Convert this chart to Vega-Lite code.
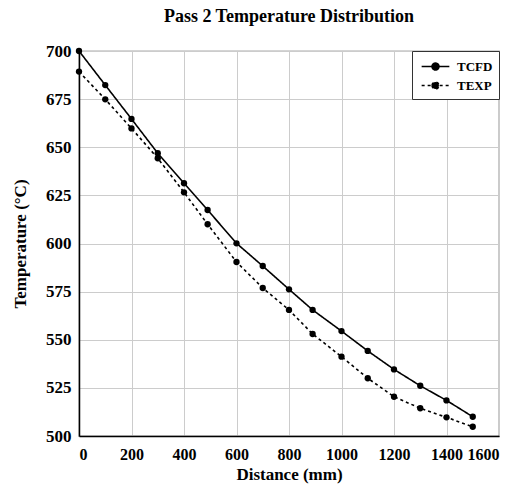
{
  "$schema": "https://vega.github.io/schema/vega-lite/v6.json",
  "width": 420,
  "height": 385,
  "autosize": {"type": "none"},
  "padding": {"left": 79, "top": 51, "right": 20, "bottom": 53},
  "background": "white",
  "title": {"text": "Pass 2 Temperature Distribution", "font": "Liberation Serif", "fontSize": 18, "fontWeight": "bold", "color": "black", "anchor": "middle", "offset": 16},
  "data": {"values": [
    {"distance": 0, "temp": 700, "series": "TCFD"},
    {"distance": 100, "temp": 682.3, "series": "TCFD"},
    {"distance": 200, "temp": 664.7, "series": "TCFD"},
    {"distance": 300, "temp": 646.9, "series": "TCFD"},
    {"distance": 400, "temp": 631.3, "series": "TCFD"},
    {"distance": 490, "temp": 617.4, "series": "TCFD"},
    {"distance": 600, "temp": 600.1, "series": "TCFD"},
    {"distance": 700, "temp": 588.3, "series": "TCFD"},
    {"distance": 800, "temp": 576.2, "series": "TCFD"},
    {"distance": 890, "temp": 565.5, "series": "TCFD"},
    {"distance": 1000, "temp": 554.5, "series": "TCFD"},
    {"distance": 1100, "temp": 544.2, "series": "TCFD"},
    {"distance": 1200, "temp": 534.6, "series": "TCFD"},
    {"distance": 1300, "temp": 526.1, "series": "TCFD"},
    {"distance": 1400, "temp": 518.5, "series": "TCFD"},
    {"distance": 1500, "temp": 510.0, "series": "TCFD"},
    {"distance": 0, "temp": 689.3, "series": "TEXP"},
    {"distance": 100, "temp": 674.9, "series": "TEXP"},
    {"distance": 200, "temp": 659.8, "series": "TEXP"},
    {"distance": 300, "temp": 644.3, "series": "TEXP"},
    {"distance": 400, "temp": 626.6, "series": "TEXP"},
    {"distance": 490, "temp": 610.0, "series": "TEXP"},
    {"distance": 600, "temp": 590.4, "series": "TEXP"},
    {"distance": 700, "temp": 576.9, "series": "TEXP"},
    {"distance": 800, "temp": 565.5, "series": "TEXP"},
    {"distance": 890, "temp": 553.0, "series": "TEXP"},
    {"distance": 1000, "temp": 541.2, "series": "TEXP"},
    {"distance": 1100, "temp": 530.0, "series": "TEXP"},
    {"distance": 1200, "temp": 520.4, "series": "TEXP"},
    {"distance": 1300, "temp": 514.4, "series": "TEXP"},
    {"distance": 1400, "temp": 509.7, "series": "TEXP"},
    {"distance": 1500, "temp": 504.8, "series": "TEXP"}
  ]},
  "encoding": {
    "x": {"field": "distance", "type": "quantitative", "title": "Distance (mm)",
      "scale": {"domain": [0, 1600], "nice": false},
      "axis": {"values": [0, 200, 400, 600, 800, 1000, 1200, 1400, 1600], "format": "d", "labelPadding": 10, "titlePadding": 4, "labelFontSize": 16}},
    "y": {"field": "temp", "type": "quantitative", "title": "Temperature (°C)",
      "scale": {"domain": [500, 700], "nice": false, "zero": false},
      "axis": {"values": [500, 525, 550, 575, 600, 625, 650, 675, 700], "format": "d", "labelPadding": 8, "titlePadding": 16}}
  },
  "layer": [
    {
      "mark": {"type": "line", "color": "black", "strokeWidth": 1.6},
      "encoding": {
        "strokeDash": {"field": "series", "type": "nominal",
          "scale": {"domain": ["TCFD", "TEXP"], "range": [[1, 0], [3, 3]]},
          "legend": {"title": null, "orient": "top-right", "offset": 0}}
      }
    },
    {
      "mark": {"type": "point", "filled": true, "color": "black", "size": 40, "opacity": 1},
      "encoding": {}
    }
  ],
  "config": {
    "view": {"stroke": "#555", "strokeWidth": 1.2},
    "axis": {
      "domainColor": "black", "domainWidth": 1.5, "grid": true, "gridColor": "#cccccc", "gridWidth": 1,
      "ticks": false, "labelFont": "Liberation Serif", "labelFontSize": 17, "labelFontWeight": "bold", "labelColor": "black",
      "titleFont": "Liberation Serif", "titleFontSize": 17, "titleFontWeight": "bold", "titleColor": "black"
    },
    "legend": {
      "strokeColor": "#333", "fillColor": "white", "padding": 6, "rowPadding": 2,
      "labelFont": "Liberation Serif", "labelFontSize": 13, "labelFontWeight": "bold", "labelColor": "black", "labelOffset": 12,
      "symbolType": "M-1.6,0H1.6M-0.4,0A0.4,0.4,0,1,0,0.4,0A0.4,0.4,0,1,0,-0.4,0Z",
      "symbolSize": 300, "symbolOffset": 8, "symbolStrokeColor": "black", "symbolFillColor": "black", "symbolStrokeWidth": 1.6
    }
  }
}
